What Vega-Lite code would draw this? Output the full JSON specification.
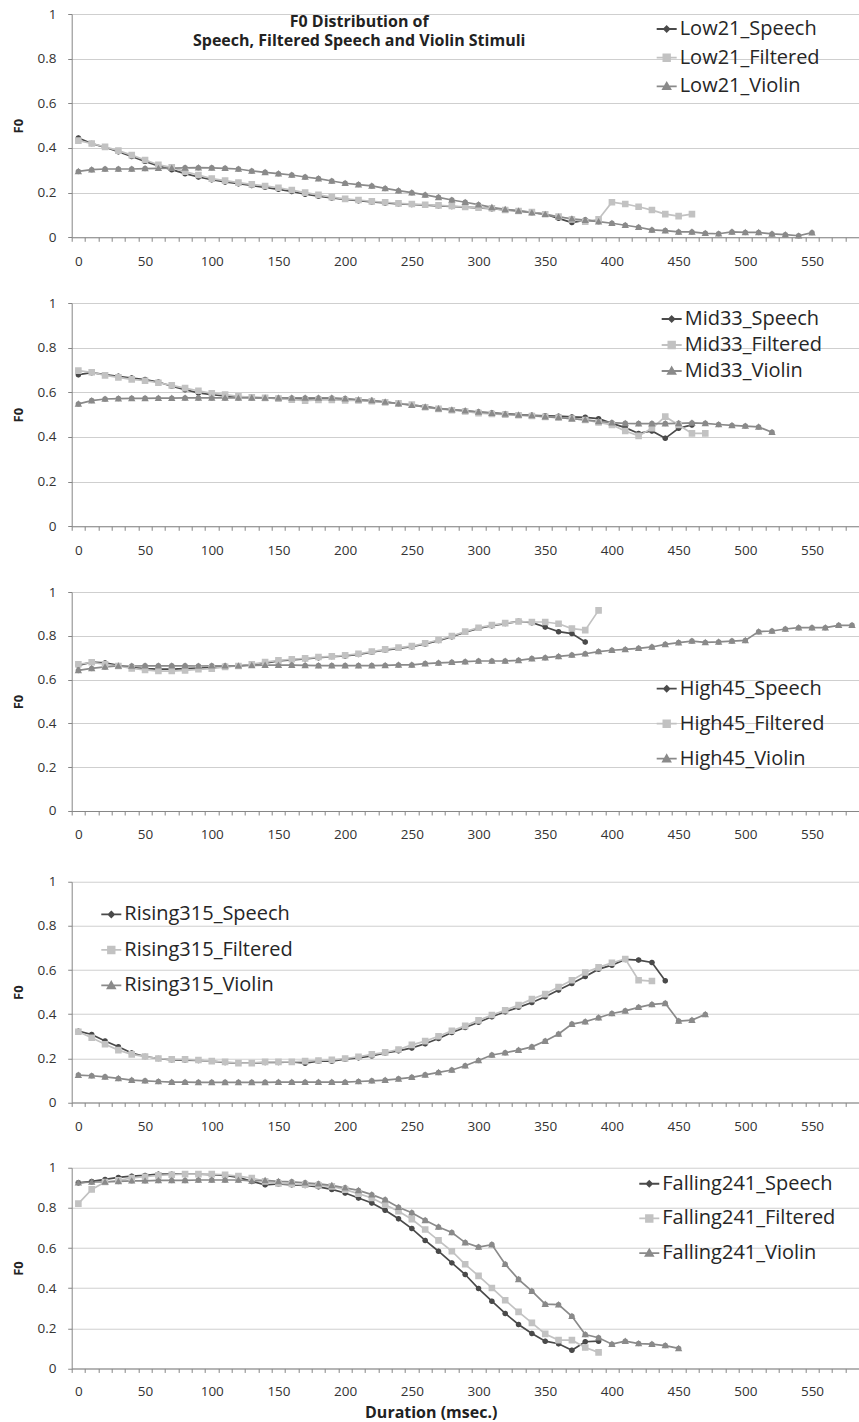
{
"$schema": "https://vega.github.io/schema/vega-lite/v6.json",
"padding": {"left": 11.7, "top": 7, "right": 0, "bottom": 3},
"config": {
  "font": "Open Sans",
  "view": {"stroke": null},
  "axis": {"labelFont": "Open Sans", "labelFontSize": 13.5, "labelColor": "#333333", "domainColor": "#868686", "tickColor": "#868686", "tickSize": 4, "gridColor": "#cfcfcf", "titleFont": "Open Sans", "titleColor": "#222222"},
  "legend": {"labelFont": "Open Sans", "labelFontSize": 20, "labelColor": "#262626", "labelOffset": 2, "symbolSize": 400, "symbolStrokeWidth": 1.8, "padding": 0, "labelLimit": 400, "orient": "none"}
},
"datasets": {
  "low21": [
    {"x":0,"Low21_Speech":0.445,"Low21_Filtered":0.433,"Low21_Violin":0.295},
    {"x":10,"Low21_Speech":0.42,"Low21_Filtered":0.42,"Low21_Violin":0.303},
    {"x":20,"Low21_Speech":0.403,"Low21_Filtered":0.405,"Low21_Violin":0.306},
    {"x":30,"Low21_Speech":0.383,"Low21_Filtered":0.388,"Low21_Violin":0.306},
    {"x":40,"Low21_Speech":0.362,"Low21_Filtered":0.368,"Low21_Violin":0.306},
    {"x":50,"Low21_Speech":0.34,"Low21_Filtered":0.346,"Low21_Violin":0.308},
    {"x":60,"Low21_Speech":0.32,"Low21_Filtered":0.325,"Low21_Violin":0.309},
    {"x":70,"Low21_Speech":0.303,"Low21_Filtered":0.313,"Low21_Violin":0.31},
    {"x":80,"Low21_Speech":0.285,"Low21_Filtered":0.294,"Low21_Violin":0.311},
    {"x":90,"Low21_Speech":0.27,"Low21_Filtered":0.279,"Low21_Violin":0.312},
    {"x":100,"Low21_Speech":0.258,"Low21_Filtered":0.263,"Low21_Violin":0.311},
    {"x":110,"Low21_Speech":0.248,"Low21_Filtered":0.254,"Low21_Violin":0.309},
    {"x":120,"Low21_Speech":0.24,"Low21_Filtered":0.245,"Low21_Violin":0.306},
    {"x":130,"Low21_Speech":0.232,"Low21_Filtered":0.237,"Low21_Violin":0.297},
    {"x":140,"Low21_Speech":0.224,"Low21_Filtered":0.23,"Low21_Violin":0.291},
    {"x":150,"Low21_Speech":0.215,"Low21_Filtered":0.222,"Low21_Violin":0.285},
    {"x":160,"Low21_Speech":0.205,"Low21_Filtered":0.212,"Low21_Violin":0.279},
    {"x":170,"Low21_Speech":0.193,"Low21_Filtered":0.2,"Low21_Violin":0.27},
    {"x":180,"Low21_Speech":0.184,"Low21_Filtered":0.19,"Low21_Violin":0.263},
    {"x":190,"Low21_Speech":0.176,"Low21_Filtered":0.18,"Low21_Violin":0.252},
    {"x":200,"Low21_Speech":0.17,"Low21_Filtered":0.172,"Low21_Violin":0.242},
    {"x":210,"Low21_Speech":0.164,"Low21_Filtered":0.167,"Low21_Violin":0.236},
    {"x":220,"Low21_Speech":0.158,"Low21_Filtered":0.161,"Low21_Violin":0.23},
    {"x":230,"Low21_Speech":0.154,"Low21_Filtered":0.157,"Low21_Violin":0.219},
    {"x":240,"Low21_Speech":0.15,"Low21_Filtered":0.152,"Low21_Violin":0.209},
    {"x":250,"Low21_Speech":0.147,"Low21_Filtered":0.149,"Low21_Violin":0.2},
    {"x":260,"Low21_Speech":0.144,"Low21_Filtered":0.146,"Low21_Violin":0.19},
    {"x":270,"Low21_Speech":0.141,"Low21_Filtered":0.143,"Low21_Violin":0.179},
    {"x":280,"Low21_Speech":0.138,"Low21_Filtered":0.14,"Low21_Violin":0.167},
    {"x":290,"Low21_Speech":0.135,"Low21_Filtered":0.136,"Low21_Violin":0.157},
    {"x":300,"Low21_Speech":0.132,"Low21_Filtered":0.133,"Low21_Violin":0.146},
    {"x":310,"Low21_Speech":0.128,"Low21_Filtered":0.13,"Low21_Violin":0.134},
    {"x":320,"Low21_Speech":0.123,"Low21_Filtered":0.122,"Low21_Violin":0.125},
    {"x":330,"Low21_Speech":0.118,"Low21_Filtered":0.118,"Low21_Violin":0.118},
    {"x":340,"Low21_Speech":0.112,"Low21_Filtered":0.113,"Low21_Violin":0.11},
    {"x":350,"Low21_Speech":0.104,"Low21_Filtered":0.103,"Low21_Violin":0.103},
    {"x":360,"Low21_Speech":0.085,"Low21_Filtered":0.093,"Low21_Violin":0.092},
    {"x":370,"Low21_Speech":0.066,"Low21_Filtered":0.08,"Low21_Violin":0.083},
    {"x":380,"Low21_Speech":0.077,"Low21_Filtered":0.07,"Low21_Violin":0.077},
    {"x":390,"Low21_Speech":0.072,"Low21_Filtered":0.081,"Low21_Violin":0.07},
    {"x":400,"Low21_Filtered":0.157,"Low21_Violin":0.063},
    {"x":410,"Low21_Filtered":0.149,"Low21_Violin":0.054},
    {"x":420,"Low21_Filtered":0.137,"Low21_Violin":0.045},
    {"x":430,"Low21_Filtered":0.122,"Low21_Violin":0.033},
    {"x":440,"Low21_Filtered":0.104,"Low21_Violin":0.03},
    {"x":450,"Low21_Filtered":0.095,"Low21_Violin":0.024},
    {"x":460,"Low21_Filtered":0.104,"Low21_Violin":0.024},
    {"x":470,"Low21_Violin":0.018},
    {"x":480,"Low21_Violin":0.016},
    {"x":490,"Low21_Violin":0.024},
    {"x":500,"Low21_Violin":0.022},
    {"x":510,"Low21_Violin":0.022},
    {"x":520,"Low21_Violin":0.015},
    {"x":530,"Low21_Violin":0.012},
    {"x":540,"Low21_Violin":0.007},
    {"x":550,"Low21_Violin":0.021}
  ],
  "mid33": [
    {"x":0,"Mid33_Speech":0.679,"Mid33_Filtered":0.697,"Mid33_Violin":0.548},
    {"x":10,"Mid33_Speech":0.688,"Mid33_Filtered":0.69,"Mid33_Violin":0.563},
    {"x":20,"Mid33_Speech":0.679,"Mid33_Filtered":0.676,"Mid33_Violin":0.57},
    {"x":30,"Mid33_Speech":0.672,"Mid33_Filtered":0.667,"Mid33_Violin":0.572},
    {"x":40,"Mid33_Speech":0.664,"Mid33_Filtered":0.658,"Mid33_Violin":0.573},
    {"x":50,"Mid33_Speech":0.657,"Mid33_Filtered":0.652,"Mid33_Violin":0.573},
    {"x":60,"Mid33_Speech":0.646,"Mid33_Filtered":0.643,"Mid33_Violin":0.574},
    {"x":70,"Mid33_Speech":0.627,"Mid33_Filtered":0.631,"Mid33_Violin":0.574},
    {"x":80,"Mid33_Speech":0.612,"Mid33_Filtered":0.619,"Mid33_Violin":0.575},
    {"x":90,"Mid33_Speech":0.597,"Mid33_Filtered":0.607,"Mid33_Violin":0.575},
    {"x":100,"Mid33_Speech":0.59,"Mid33_Filtered":0.596,"Mid33_Violin":0.575},
    {"x":110,"Mid33_Speech":0.584,"Mid33_Filtered":0.59,"Mid33_Violin":0.575},
    {"x":120,"Mid33_Speech":0.579,"Mid33_Filtered":0.582,"Mid33_Violin":0.575},
    {"x":130,"Mid33_Speech":0.577,"Mid33_Filtered":0.578,"Mid33_Violin":0.575},
    {"x":140,"Mid33_Speech":0.575,"Mid33_Filtered":0.575,"Mid33_Violin":0.575},
    {"x":150,"Mid33_Speech":0.573,"Mid33_Filtered":0.572,"Mid33_Violin":0.575},
    {"x":160,"Mid33_Speech":0.572,"Mid33_Filtered":0.567,"Mid33_Violin":0.575},
    {"x":170,"Mid33_Speech":0.571,"Mid33_Filtered":0.563,"Mid33_Violin":0.575},
    {"x":180,"Mid33_Speech":0.571,"Mid33_Filtered":0.566,"Mid33_Violin":0.575},
    {"x":190,"Mid33_Speech":0.57,"Mid33_Filtered":0.566,"Mid33_Violin":0.575},
    {"x":200,"Mid33_Speech":0.568,"Mid33_Filtered":0.564,"Mid33_Violin":0.572},
    {"x":210,"Mid33_Speech":0.565,"Mid33_Filtered":0.564,"Mid33_Violin":0.567},
    {"x":220,"Mid33_Speech":0.561,"Mid33_Filtered":0.56,"Mid33_Violin":0.564},
    {"x":230,"Mid33_Speech":0.556,"Mid33_Filtered":0.555,"Mid33_Violin":0.557},
    {"x":240,"Mid33_Speech":0.55,"Mid33_Filtered":0.551,"Mid33_Violin":0.549},
    {"x":250,"Mid33_Speech":0.544,"Mid33_Filtered":0.545,"Mid33_Violin":0.542},
    {"x":260,"Mid33_Speech":0.536,"Mid33_Filtered":0.533,"Mid33_Violin":0.535},
    {"x":270,"Mid33_Speech":0.528,"Mid33_Filtered":0.526,"Mid33_Violin":0.527},
    {"x":280,"Mid33_Speech":0.522,"Mid33_Filtered":0.52,"Mid33_Violin":0.522},
    {"x":290,"Mid33_Speech":0.517,"Mid33_Filtered":0.514,"Mid33_Violin":0.518},
    {"x":300,"Mid33_Speech":0.512,"Mid33_Filtered":0.507,"Mid33_Violin":0.512},
    {"x":310,"Mid33_Speech":0.508,"Mid33_Filtered":0.503,"Mid33_Violin":0.507},
    {"x":320,"Mid33_Speech":0.504,"Mid33_Filtered":0.5,"Mid33_Violin":0.503},
    {"x":330,"Mid33_Speech":0.5,"Mid33_Filtered":0.497,"Mid33_Violin":0.499},
    {"x":340,"Mid33_Speech":0.497,"Mid33_Filtered":0.494,"Mid33_Violin":0.496},
    {"x":350,"Mid33_Speech":0.495,"Mid33_Filtered":0.49,"Mid33_Violin":0.491},
    {"x":360,"Mid33_Speech":0.493,"Mid33_Filtered":0.487,"Mid33_Violin":0.487},
    {"x":370,"Mid33_Speech":0.49,"Mid33_Filtered":0.482,"Mid33_Violin":0.482},
    {"x":380,"Mid33_Speech":0.488,"Mid33_Filtered":0.476,"Mid33_Violin":0.477},
    {"x":390,"Mid33_Speech":0.482,"Mid33_Filtered":0.465,"Mid33_Violin":0.47},
    {"x":400,"Mid33_Speech":0.461,"Mid33_Filtered":0.454,"Mid33_Violin":0.464},
    {"x":410,"Mid33_Speech":0.442,"Mid33_Filtered":0.427,"Mid33_Violin":0.461},
    {"x":420,"Mid33_Speech":0.416,"Mid33_Filtered":0.405,"Mid33_Violin":0.46},
    {"x":430,"Mid33_Speech":0.427,"Mid33_Filtered":0.439,"Mid33_Violin":0.46},
    {"x":440,"Mid33_Speech":0.394,"Mid33_Filtered":0.491,"Mid33_Violin":0.46},
    {"x":450,"Mid33_Speech":0.439,"Mid33_Filtered":0.454,"Mid33_Violin":0.461},
    {"x":460,"Mid33_Speech":0.454,"Mid33_Filtered":0.416,"Mid33_Violin":0.463},
    {"x":470,"Mid33_Filtered":0.416,"Mid33_Violin":0.461},
    {"x":480,"Mid33_Violin":0.456},
    {"x":490,"Mid33_Violin":0.452},
    {"x":500,"Mid33_Violin":0.449},
    {"x":510,"Mid33_Violin":0.445},
    {"x":520,"Mid33_Violin":0.421}
  ],
  "high45": [
    {"x":0,"High45_Speech":0.665,"High45_Filtered":0.67,"High45_Violin":0.642},
    {"x":10,"High45_Speech":0.68,"High45_Filtered":0.679,"High45_Violin":0.651},
    {"x":20,"High45_Speech":0.676,"High45_Filtered":0.67,"High45_Violin":0.658},
    {"x":30,"High45_Speech":0.665,"High45_Filtered":0.662,"High45_Violin":0.662},
    {"x":40,"High45_Speech":0.655,"High45_Filtered":0.651,"High45_Violin":0.662},
    {"x":50,"High45_Speech":0.65,"High45_Filtered":0.644,"High45_Violin":0.663},
    {"x":60,"High45_Speech":0.648,"High45_Filtered":0.639,"High45_Violin":0.663},
    {"x":70,"High45_Speech":0.648,"High45_Filtered":0.639,"High45_Violin":0.663},
    {"x":80,"High45_Speech":0.65,"High45_Filtered":0.642,"High45_Violin":0.663},
    {"x":90,"High45_Speech":0.652,"High45_Filtered":0.647,"High45_Violin":0.662},
    {"x":100,"High45_Speech":0.655,"High45_Filtered":0.65,"High45_Violin":0.663},
    {"x":110,"High45_Speech":0.66,"High45_Filtered":0.658,"High45_Violin":0.663},
    {"x":120,"High45_Speech":0.662,"High45_Filtered":0.662,"High45_Violin":0.663},
    {"x":130,"High45_Speech":0.668,"High45_Filtered":0.67,"High45_Violin":0.665},
    {"x":140,"High45_Speech":0.675,"High45_Filtered":0.68,"High45_Violin":0.666},
    {"x":150,"High45_Speech":0.685,"High45_Filtered":0.688,"High45_Violin":0.666},
    {"x":160,"High45_Speech":0.69,"High45_Filtered":0.693,"High45_Violin":0.666},
    {"x":170,"High45_Speech":0.695,"High45_Filtered":0.697,"High45_Violin":0.665},
    {"x":180,"High45_Speech":0.7,"High45_Filtered":0.703,"High45_Violin":0.664},
    {"x":190,"High45_Speech":0.705,"High45_Filtered":0.706,"High45_Violin":0.664},
    {"x":200,"High45_Speech":0.708,"High45_Filtered":0.711,"High45_Violin":0.664},
    {"x":210,"High45_Speech":0.715,"High45_Filtered":0.718,"High45_Violin":0.664},
    {"x":220,"High45_Speech":0.725,"High45_Filtered":0.728,"High45_Violin":0.664},
    {"x":230,"High45_Speech":0.735,"High45_Filtered":0.738,"High45_Violin":0.665},
    {"x":240,"High45_Speech":0.743,"High45_Filtered":0.746,"High45_Violin":0.667},
    {"x":250,"High45_Speech":0.75,"High45_Filtered":0.753,"High45_Violin":0.667},
    {"x":260,"High45_Speech":0.763,"High45_Filtered":0.766,"High45_Violin":0.673},
    {"x":270,"High45_Speech":0.778,"High45_Filtered":0.781,"High45_Violin":0.676},
    {"x":280,"High45_Speech":0.796,"High45_Filtered":0.799,"High45_Violin":0.679},
    {"x":290,"High45_Speech":0.816,"High45_Filtered":0.819,"High45_Violin":0.682},
    {"x":300,"High45_Speech":0.834,"High45_Filtered":0.837,"High45_Violin":0.685},
    {"x":310,"High45_Speech":0.846,"High45_Filtered":0.849,"High45_Violin":0.685},
    {"x":320,"High45_Speech":0.856,"High45_Filtered":0.858,"High45_Violin":0.685},
    {"x":330,"High45_Speech":0.866,"High45_Filtered":0.865,"High45_Violin":0.688},
    {"x":340,"High45_Speech":0.86,"High45_Filtered":0.863,"High45_Violin":0.696},
    {"x":350,"High45_Speech":0.84,"High45_Filtered":0.863,"High45_Violin":0.7},
    {"x":360,"High45_Speech":0.819,"High45_Filtered":0.855,"High45_Violin":0.706},
    {"x":370,"High45_Speech":0.81,"High45_Filtered":0.833,"High45_Violin":0.712},
    {"x":380,"High45_Speech":0.772,"High45_Filtered":0.826,"High45_Violin":0.718},
    {"x":390,"High45_Filtered":0.916,"High45_Violin":0.728},
    {"x":400,"High45_Violin":0.734},
    {"x":410,"High45_Violin":0.738},
    {"x":420,"High45_Violin":0.743},
    {"x":430,"High45_Violin":0.749},
    {"x":440,"High45_Violin":0.761},
    {"x":450,"High45_Violin":0.769},
    {"x":460,"High45_Violin":0.776},
    {"x":470,"High45_Violin":0.77},
    {"x":480,"High45_Violin":0.772},
    {"x":490,"High45_Violin":0.776},
    {"x":500,"High45_Violin":0.779},
    {"x":510,"High45_Violin":0.819},
    {"x":520,"High45_Violin":0.822},
    {"x":530,"High45_Violin":0.831},
    {"x":540,"High45_Violin":0.837},
    {"x":550,"High45_Violin":0.837},
    {"x":560,"High45_Violin":0.837},
    {"x":570,"High45_Violin":0.848},
    {"x":580,"High45_Violin":0.848}
  ],
  "rising315": [
    {"x":0,"Rising315_Speech":0.323,"Rising315_Filtered":0.32,"Rising315_Violin":0.124},
    {"x":10,"Rising315_Speech":0.308,"Rising315_Filtered":0.293,"Rising315_Violin":0.121},
    {"x":20,"Rising315_Speech":0.278,"Rising315_Filtered":0.264,"Rising315_Violin":0.116},
    {"x":30,"Rising315_Speech":0.252,"Rising315_Filtered":0.237,"Rising315_Violin":0.109},
    {"x":40,"Rising315_Speech":0.224,"Rising315_Filtered":0.218,"Rising315_Violin":0.101},
    {"x":50,"Rising315_Speech":0.208,"Rising315_Filtered":0.208,"Rising315_Violin":0.098},
    {"x":60,"Rising315_Speech":0.199,"Rising315_Filtered":0.199,"Rising315_Violin":0.095},
    {"x":70,"Rising315_Speech":0.193,"Rising315_Filtered":0.195,"Rising315_Violin":0.092},
    {"x":80,"Rising315_Speech":0.192,"Rising315_Filtered":0.195,"Rising315_Violin":0.092},
    {"x":90,"Rising315_Speech":0.19,"Rising315_Filtered":0.192,"Rising315_Violin":0.091},
    {"x":100,"Rising315_Speech":0.187,"Rising315_Filtered":0.187,"Rising315_Violin":0.091},
    {"x":110,"Rising315_Speech":0.181,"Rising315_Filtered":0.184,"Rising315_Violin":0.091},
    {"x":120,"Rising315_Speech":0.178,"Rising315_Filtered":0.178,"Rising315_Violin":0.091},
    {"x":130,"Rising315_Speech":0.178,"Rising315_Filtered":0.178,"Rising315_Violin":0.091},
    {"x":140,"Rising315_Speech":0.181,"Rising315_Filtered":0.184,"Rising315_Violin":0.091},
    {"x":150,"Rising315_Speech":0.181,"Rising315_Filtered":0.184,"Rising315_Violin":0.092},
    {"x":160,"Rising315_Speech":0.184,"Rising315_Filtered":0.184,"Rising315_Violin":0.092},
    {"x":170,"Rising315_Speech":0.178,"Rising315_Filtered":0.187,"Rising315_Violin":0.092},
    {"x":180,"Rising315_Speech":0.187,"Rising315_Filtered":0.19,"Rising315_Violin":0.092},
    {"x":190,"Rising315_Speech":0.187,"Rising315_Filtered":0.193,"Rising315_Violin":0.092},
    {"x":200,"Rising315_Speech":0.196,"Rising315_Filtered":0.199,"Rising315_Violin":0.092},
    {"x":210,"Rising315_Speech":0.202,"Rising315_Filtered":0.207,"Rising315_Violin":0.095},
    {"x":220,"Rising315_Speech":0.211,"Rising315_Filtered":0.218,"Rising315_Violin":0.098},
    {"x":230,"Rising315_Speech":0.224,"Rising315_Filtered":0.227,"Rising315_Violin":0.101},
    {"x":240,"Rising315_Speech":0.234,"Rising315_Filtered":0.24,"Rising315_Violin":0.107},
    {"x":250,"Rising315_Speech":0.247,"Rising315_Filtered":0.261,"Rising315_Violin":0.114},
    {"x":260,"Rising315_Speech":0.266,"Rising315_Filtered":0.278,"Rising315_Violin":0.125},
    {"x":270,"Rising315_Speech":0.29,"Rising315_Filtered":0.3,"Rising315_Violin":0.136},
    {"x":280,"Rising315_Speech":0.317,"Rising315_Filtered":0.325,"Rising315_Violin":0.147},
    {"x":290,"Rising315_Speech":0.34,"Rising315_Filtered":0.347,"Rising315_Violin":0.166},
    {"x":300,"Rising315_Speech":0.363,"Rising315_Filtered":0.372,"Rising315_Violin":0.19},
    {"x":310,"Rising315_Speech":0.388,"Rising315_Filtered":0.396,"Rising315_Violin":0.215},
    {"x":320,"Rising315_Speech":0.411,"Rising315_Filtered":0.418,"Rising315_Violin":0.225},
    {"x":330,"Rising315_Speech":0.431,"Rising315_Filtered":0.441,"Rising315_Violin":0.237},
    {"x":340,"Rising315_Speech":0.453,"Rising315_Filtered":0.468,"Rising315_Violin":0.252},
    {"x":350,"Rising315_Speech":0.479,"Rising315_Filtered":0.491,"Rising315_Violin":0.278},
    {"x":360,"Rising315_Speech":0.509,"Rising315_Filtered":0.523,"Rising315_Violin":0.31},
    {"x":370,"Rising315_Speech":0.539,"Rising315_Filtered":0.554,"Rising315_Violin":0.355},
    {"x":380,"Rising315_Speech":0.571,"Rising315_Filtered":0.589,"Rising315_Violin":0.366},
    {"x":390,"Rising315_Speech":0.604,"Rising315_Filtered":0.612,"Rising315_Violin":0.384},
    {"x":400,"Rising315_Speech":0.622,"Rising315_Filtered":0.633,"Rising315_Violin":0.403},
    {"x":410,"Rising315_Speech":0.648,"Rising315_Filtered":0.65,"Rising315_Violin":0.415},
    {"x":420,"Rising315_Speech":0.645,"Rising315_Filtered":0.554,"Rising315_Violin":0.431},
    {"x":430,"Rising315_Speech":0.634,"Rising315_Filtered":0.55,"Rising315_Violin":0.444},
    {"x":440,"Rising315_Speech":0.551,"Rising315_Violin":0.449},
    {"x":450,"Rising315_Violin":0.369},
    {"x":460,"Rising315_Violin":0.373},
    {"x":470,"Rising315_Violin":0.399}
  ],
  "falling241": [
    {"x":0,"Falling241_Speech":0.925,"Falling241_Filtered":0.821,"Falling241_Violin":0.925},
    {"x":10,"Falling241_Speech":0.932,"Falling241_Filtered":0.892,"Falling241_Violin":0.929},
    {"x":20,"Falling241_Speech":0.942,"Falling241_Filtered":0.929,"Falling241_Violin":0.929},
    {"x":30,"Falling241_Speech":0.952,"Falling241_Filtered":0.937,"Falling241_Violin":0.932},
    {"x":40,"Falling241_Speech":0.958,"Falling241_Filtered":0.949,"Falling241_Violin":0.935},
    {"x":50,"Falling241_Speech":0.962,"Falling241_Filtered":0.955,"Falling241_Violin":0.935},
    {"x":60,"Falling241_Speech":0.968,"Falling241_Filtered":0.962,"Falling241_Violin":0.937},
    {"x":70,"Falling241_Speech":0.968,"Falling241_Filtered":0.965,"Falling241_Violin":0.937},
    {"x":80,"Falling241_Speech":0.968,"Falling241_Filtered":0.968,"Falling241_Violin":0.937},
    {"x":90,"Falling241_Speech":0.968,"Falling241_Filtered":0.968,"Falling241_Violin":0.939},
    {"x":100,"Falling241_Speech":0.965,"Falling241_Filtered":0.968,"Falling241_Violin":0.939},
    {"x":110,"Falling241_Speech":0.962,"Falling241_Filtered":0.965,"Falling241_Violin":0.939},
    {"x":120,"Falling241_Speech":0.952,"Falling241_Filtered":0.958,"Falling241_Violin":0.939},
    {"x":130,"Falling241_Speech":0.932,"Falling241_Filtered":0.949,"Falling241_Violin":0.934},
    {"x":140,"Falling241_Speech":0.915,"Falling241_Filtered":0.932,"Falling241_Violin":0.937},
    {"x":150,"Falling241_Speech":0.919,"Falling241_Filtered":0.922,"Falling241_Violin":0.932},
    {"x":160,"Falling241_Speech":0.915,"Falling241_Filtered":0.919,"Falling241_Violin":0.93},
    {"x":170,"Falling241_Speech":0.912,"Falling241_Filtered":0.915,"Falling241_Violin":0.925},
    {"x":180,"Falling241_Speech":0.905,"Falling241_Filtered":0.912,"Falling241_Violin":0.92},
    {"x":190,"Falling241_Speech":0.892,"Falling241_Filtered":0.907,"Falling241_Violin":0.912},
    {"x":200,"Falling241_Speech":0.874,"Falling241_Filtered":0.891,"Falling241_Violin":0.9},
    {"x":210,"Falling241_Speech":0.849,"Falling241_Filtered":0.871,"Falling241_Violin":0.887},
    {"x":220,"Falling241_Speech":0.824,"Falling241_Filtered":0.849,"Falling241_Violin":0.866},
    {"x":230,"Falling241_Speech":0.788,"Falling241_Filtered":0.816,"Falling241_Violin":0.841},
    {"x":240,"Falling241_Speech":0.746,"Falling241_Filtered":0.783,"Falling241_Violin":0.803},
    {"x":250,"Falling241_Speech":0.697,"Falling241_Filtered":0.743,"Falling241_Violin":0.776},
    {"x":260,"Falling241_Speech":0.638,"Falling241_Filtered":0.692,"Falling241_Violin":0.738},
    {"x":270,"Falling241_Speech":0.584,"Falling241_Filtered":0.638,"Falling241_Violin":0.705},
    {"x":280,"Falling241_Speech":0.526,"Falling241_Filtered":0.584,"Falling241_Violin":0.677},
    {"x":290,"Falling241_Speech":0.468,"Falling241_Filtered":0.519,"Falling241_Violin":0.627},
    {"x":300,"Falling241_Speech":0.398,"Falling241_Filtered":0.461,"Falling241_Violin":0.605},
    {"x":310,"Falling241_Speech":0.335,"Falling241_Filtered":0.401,"Falling241_Violin":0.617},
    {"x":320,"Falling241_Speech":0.274,"Falling241_Filtered":0.34,"Falling241_Violin":0.519},
    {"x":330,"Falling241_Speech":0.219,"Falling241_Filtered":0.282,"Falling241_Violin":0.444},
    {"x":340,"Falling241_Speech":0.174,"Falling241_Filtered":0.227,"Falling241_Violin":0.385},
    {"x":350,"Falling241_Speech":0.136,"Falling241_Filtered":0.172,"Falling241_Violin":0.32},
    {"x":360,"Falling241_Speech":0.123,"Falling241_Filtered":0.141,"Falling241_Violin":0.318},
    {"x":370,"Falling241_Speech":0.091,"Falling241_Filtered":0.141,"Falling241_Violin":0.26},
    {"x":380,"Falling241_Speech":0.133,"Falling241_Filtered":0.104,"Falling241_Violin":0.169},
    {"x":390,"Falling241_Speech":0.136,"Falling241_Filtered":0.08,"Falling241_Violin":0.153},
    {"x":400,"Falling241_Violin":0.121},
    {"x":410,"Falling241_Violin":0.136},
    {"x":420,"Falling241_Violin":0.124},
    {"x":430,"Falling241_Violin":0.121},
    {"x":440,"Falling241_Violin":0.114},
    {"x":450,"Falling241_Violin":0.1}
  ]
},
"resolve": {"scale": {"color": "independent", "shape": "independent"}, "legend": {"color": "independent", "shape": "independent"}},
"spacing": 32.75,
"vconcat": [
 {
  "resolve": {"scale": {"color": "independent", "shape": "independent"}, "legend": {"color": "independent", "shape": "independent"}},
  "spacing": 28,
  "vconcat": [
   {
    "width": 787, "height": 223.3,
    "title": {"text": ["F0 Distribution of", "Speech, Filtered Speech and Violin Stimuli"], "font": "Open Sans", "fontSize": 16, "fontWeight": "bold", "color": "#222222", "anchor": "middle", "dx": -106, "offset": -42, "baseline": "top", "lineHeight": 19.5, "frame": "group"},
    "data": {"name": "low21"},
    "transform": [{"fold": ["Low21_Speech", "Low21_Filtered", "Low21_Violin"], "as": ["series", "f0"]}, {"filter": "isValid(datum.f0)"}],
    "encoding": {
      "x": {"field": "x", "type": "quantitative", "scale": {"domain": [-5, 585], "nice": false, "zero": false},
            "axis": {"title": null, "values": [0,10,20,30,40,50,60,70,80,90,100,110,120,130,140,150,160,170,180,190,200,210,220,230,240,250,260,270,280,290,300,310,320,330,340,350,360,370,380,390,400,410,420,430,440,450,460,470,480,490,500,510,520,530,540,550,560,570,580,590], "tickOffset": -6.67, "labelOffset": 6.67, "labelExpr": "datum.value % 50 === 0 && datum.value <= 550 ? datum.label : ''", "grid": false, "labelFlush": false, "labelOverlap": false, "labelPadding": 13, "tickSize": 4}},
      "y": {"field": "f0", "type": "quantitative", "scale": {"domain": [0, 1], "nice": false},
            "axis": {"title": "F0", "values": [0, 0.2, 0.4, 0.6, 0.8, 1], "format": "~g", "grid": true, "labelPadding": 11.7, "tickSize": 4, "titleFontSize": 13, "titleFontWeight": "bold", "titlePadding": 12}},
      "color": {"field": "series", "type": "nominal", "scale": {"domain": ["Low21_Speech", "Low21_Filtered", "Low21_Violin"], "range": ["#4a4a4a", "#c2c2c2", "#8a8a8a"]},
                "legend": {"title": null, "orient": "none", "legendX": 584, "legendY": 4, "rowPadding": 7.7,
                  "encode": {"symbols": {"update": {
                    "stroke": {"signal": "indexof(datum.value,'Speech')>=0 ? '#4a4a4a' : indexof(datum.value,'Filtered')>=0 ? '#c2c2c2' : '#8a8a8a'"},
                    "strokeWidth": {"value": 1.8}, "strokeOpacity": {"value": 1}, "size": {"value": 400}, "opacity": {"value": 1}}}}}},
      "shape": {"field": "series", "type": "nominal", "scale": {"domain": ["Low21_Speech", "Low21_Filtered", "Low21_Violin"], "range": ["M-1,0L1,0M0,-0.27L0.27,0L0,0.27L-0.27,0Z", "M-1,0L1,0M-0.33,-0.33L0.33,-0.33L0.33,0.33L-0.33,0.33Z", "M-1,0L1,0M0,-0.36L0.37,0.28L-0.37,0.28Z"]},
                "legend": {"title": null, "orient": "none", "legendX": 584, "legendY": 4, "rowPadding": 7.7}}
    },
    "layer": [
      {"mark": {"type": "line", "strokeWidth": 1.7}, "encoding": {"shape": {"value": "circle"}}},
      {"mark": {"type": "point", "filled": true, "opacity": 1, "size": 400, "strokeWidth": 0}}
    ]
   },
   {
    "width": 787, "height": 223.3,
    "data": {"name": "mid33"},
    "transform": [{"fold": ["Mid33_Speech", "Mid33_Filtered", "Mid33_Violin"], "as": ["series", "f0"]}, {"filter": "isValid(datum.f0)"}],
    "encoding": {
      "x": {"field": "x", "type": "quantitative", "scale": {"domain": [-5, 585], "nice": false, "zero": false},
            "axis": {"title": null, "values": [0,10,20,30,40,50,60,70,80,90,100,110,120,130,140,150,160,170,180,190,200,210,220,230,240,250,260,270,280,290,300,310,320,330,340,350,360,370,380,390,400,410,420,430,440,450,460,470,480,490,500,510,520,530,540,550,560,570,580,590], "tickOffset": -6.67, "labelOffset": 6.67, "labelExpr": "datum.value % 50 === 0 && datum.value <= 550 ? datum.label : ''", "grid": false, "labelFlush": false, "labelOverlap": false, "labelPadding": 13, "tickSize": 4}},
      "y": {"field": "f0", "type": "quantitative", "scale": {"domain": [0, 1], "nice": false},
            "axis": {"title": "F0", "values": [0, 0.2, 0.4, 0.6, 0.8, 1], "format": "~g", "grid": true, "labelPadding": 11.7, "tickSize": 4, "titleFontSize": 13, "titleFontWeight": "bold", "titlePadding": 12}},
      "color": {"field": "series", "type": "nominal", "scale": {"domain": ["Mid33_Speech", "Mid33_Filtered", "Mid33_Violin"], "range": ["#4a4a4a", "#c2c2c2", "#8a8a8a"]},
                "legend": {"title": null, "orient": "none", "legendX": 589, "legendY": 5, "rowPadding": 5,
                  "encode": {"symbols": {"update": {
                    "stroke": {"signal": "indexof(datum.value,'Speech')>=0 ? '#4a4a4a' : indexof(datum.value,'Filtered')>=0 ? '#c2c2c2' : '#8a8a8a'"},
                    "strokeWidth": {"value": 1.8}, "strokeOpacity": {"value": 1}, "size": {"value": 400}, "opacity": {"value": 1}}}}}},
      "shape": {"field": "series", "type": "nominal", "scale": {"domain": ["Mid33_Speech", "Mid33_Filtered", "Mid33_Violin"], "range": ["M-1,0L1,0M0,-0.27L0.27,0L0,0.27L-0.27,0Z", "M-1,0L1,0M-0.33,-0.33L0.33,-0.33L0.33,0.33L-0.33,0.33Z", "M-1,0L1,0M0,-0.36L0.37,0.28L-0.37,0.28Z"]},
                "legend": {"title": null, "orient": "none", "legendX": 589, "legendY": 5, "rowPadding": 5}}
    },
    "layer": [
      {"mark": {"type": "line", "strokeWidth": 1.7}, "encoding": {"shape": {"value": "circle"}}},
      {"mark": {"type": "point", "filled": true, "opacity": 1, "size": 400, "strokeWidth": 0}}
    ]
   },
   {
    "width": 787, "height": 219,
    "data": {"name": "high45"},
    "transform": [{"fold": ["High45_Speech", "High45_Filtered", "High45_Violin"], "as": ["series", "f0"]}, {"filter": "isValid(datum.f0)"}],
    "encoding": {
      "x": {"field": "x", "type": "quantitative", "scale": {"domain": [-5, 585], "nice": false, "zero": false},
            "axis": {"title": null, "values": [0,10,20,30,40,50,60,70,80,90,100,110,120,130,140,150,160,170,180,190,200,210,220,230,240,250,260,270,280,290,300,310,320,330,340,350,360,370,380,390,400,410,420,430,440,450,460,470,480,490,500,510,520,530,540,550,560,570,580,590], "tickOffset": -6.67, "labelOffset": 6.67, "labelExpr": "datum.value % 50 === 0 && datum.value <= 550 ? datum.label : ''", "grid": false, "labelFlush": false, "labelOverlap": false, "labelPadding": 13, "tickSize": 4}},
      "y": {"field": "f0", "type": "quantitative", "scale": {"domain": [0, 1], "nice": false},
            "axis": {"title": "F0", "values": [0, 0.2, 0.4, 0.6, 0.8, 1], "format": "~g", "grid": true, "labelPadding": 11.7, "tickSize": 4, "titleFontSize": 13, "titleFontWeight": "bold", "titlePadding": 12}},
      "color": {"field": "series", "type": "nominal", "scale": {"domain": ["High45_Speech", "High45_Filtered", "High45_Violin"], "range": ["#4a4a4a", "#c2c2c2", "#8a8a8a"]},
                "legend": {"title": null, "orient": "none", "legendX": 584, "legendY": 85.7, "rowPadding": 14,
                  "encode": {"symbols": {"update": {
                    "stroke": {"signal": "indexof(datum.value,'Speech')>=0 ? '#4a4a4a' : indexof(datum.value,'Filtered')>=0 ? '#c2c2c2' : '#8a8a8a'"},
                    "strokeWidth": {"value": 1.8}, "strokeOpacity": {"value": 1}, "size": {"value": 400}, "opacity": {"value": 1}}}}}},
      "shape": {"field": "series", "type": "nominal", "scale": {"domain": ["High45_Speech", "High45_Filtered", "High45_Violin"], "range": ["M-1,0L1,0M0,-0.27L0.27,0L0,0.27L-0.27,0Z", "M-1,0L1,0M-0.33,-0.33L0.33,-0.33L0.33,0.33L-0.33,0.33Z", "M-1,0L1,0M0,-0.36L0.37,0.28L-0.37,0.28Z"]},
                "legend": {"title": null, "orient": "none", "legendX": 584, "legendY": 85.7, "rowPadding": 14}}
    },
    "layer": [
      {"mark": {"type": "line", "strokeWidth": 1.7}, "encoding": {"shape": {"value": "circle"}}},
      {"mark": {"type": "point", "filled": true, "opacity": 1, "size": 400, "strokeWidth": 0}}
    ]
   }
  ]
 },
 {
  "resolve": {"scale": {"color": "independent", "shape": "independent"}, "legend": {"color": "independent", "shape": "independent"}},
  "spacing": 27,
  "vconcat": [
   {
    "width": 787, "height": 220.7,
    "data": {"name": "rising315"},
    "transform": [{"fold": ["Rising315_Speech", "Rising315_Filtered", "Rising315_Violin"], "as": ["series", "f0"]}, {"filter": "isValid(datum.f0)"}],
    "encoding": {
      "x": {"field": "x", "type": "quantitative", "scale": {"domain": [-5, 585], "nice": false, "zero": false},
            "axis": {"title": null, "values": [0,10,20,30,40,50,60,70,80,90,100,110,120,130,140,150,160,170,180,190,200,210,220,230,240,250,260,270,280,290,300,310,320,330,340,350,360,370,380,390,400,410,420,430,440,450,460,470,480,490,500,510,520,530,540,550,560,570,580,590], "tickOffset": -6.67, "labelOffset": 6.67, "labelExpr": "datum.value % 50 === 0 && datum.value <= 550 ? datum.label : ''", "grid": false, "labelFlush": false, "labelOverlap": false, "labelPadding": 13, "tickSize": 4}},
      "y": {"field": "f0", "type": "quantitative", "scale": {"domain": [0, 1], "nice": false},
            "axis": {"title": "F0", "values": [0, 0.2, 0.4, 0.6, 0.8, 1], "format": "~g", "grid": true, "labelPadding": 11.7, "tickSize": 4, "titleFontSize": 13, "titleFontWeight": "bold", "titlePadding": 12}},
      "color": {"field": "series", "type": "nominal", "scale": {"domain": ["Rising315_Speech", "Rising315_Filtered", "Rising315_Violin"], "range": ["#4a4a4a", "#c2c2c2", "#8a8a8a"]},
                "legend": {"title": null, "orient": "none", "legendX": 28.6, "legendY": 21.7, "rowPadding": 14.5,
                  "encode": {"symbols": {"update": {
                    "stroke": {"signal": "indexof(datum.value,'Speech')>=0 ? '#4a4a4a' : indexof(datum.value,'Filtered')>=0 ? '#c2c2c2' : '#8a8a8a'"},
                    "strokeWidth": {"value": 1.8}, "strokeOpacity": {"value": 1}, "size": {"value": 400}, "opacity": {"value": 1}}}}}},
      "shape": {"field": "series", "type": "nominal", "scale": {"domain": ["Rising315_Speech", "Rising315_Filtered", "Rising315_Violin"], "range": ["M-1,0L1,0M0,-0.27L0.27,0L0,0.27L-0.27,0Z", "M-1,0L1,0M-0.33,-0.33L0.33,-0.33L0.33,0.33L-0.33,0.33Z", "M-1,0L1,0M0,-0.36L0.37,0.28L-0.37,0.28Z"]},
                "legend": {"title": null, "orient": "none", "legendX": 28.6, "legendY": 21.7, "rowPadding": 14.5}}
    },
    "layer": [
      {"mark": {"type": "line", "strokeWidth": 1.7}, "encoding": {"shape": {"value": "circle"}}},
      {"mark": {"type": "point", "filled": true, "opacity": 1, "size": 400, "strokeWidth": 0}}
    ]
   },
   {
    "width": 787, "height": 200.7,
    "data": {"name": "falling241"},
    "transform": [{"fold": ["Falling241_Speech", "Falling241_Filtered", "Falling241_Violin"], "as": ["series", "f0"]}, {"filter": "isValid(datum.f0)"}],
    "encoding": {
      "x": {"field": "x", "type": "quantitative", "scale": {"domain": [-5, 585], "nice": false, "zero": false},
            "axis": {"title": "Duration (msec.)", "titleFontSize": 16, "titleFontWeight": "bold", "titleX": 359, "titleY": 44, "titleBaseline": "middle", "values": [0,10,20,30,40,50,60,70,80,90,100,110,120,130,140,150,160,170,180,190,200,210,220,230,240,250,260,270,280,290,300,310,320,330,340,350,360,370,380,390,400,410,420,430,440,450,460,470,480,490,500,510,520,530,540,550,560,570,580,590], "tickOffset": -6.67, "labelOffset": 6.67, "labelExpr": "datum.value % 50 === 0 && datum.value <= 550 ? datum.label : ''", "grid": false, "labelFlush": false, "labelOverlap": false, "labelPadding": 12, "tickSize": 4}},
      "y": {"field": "f0", "type": "quantitative", "scale": {"domain": [0, 1], "nice": false},
            "axis": {"title": "F0", "values": [0, 0.2, 0.4, 0.6, 0.8, 1], "format": "~g", "grid": true, "labelPadding": 11.7, "tickSize": 4, "titleFontSize": 13, "titleFontWeight": "bold", "titlePadding": 12}},
      "color": {"field": "series", "type": "nominal", "scale": {"domain": ["Falling241_Speech", "Falling241_Filtered", "Falling241_Violin"], "range": ["#4a4a4a", "#c2c2c2", "#8a8a8a"]},
                "legend": {"title": null, "orient": "none", "legendX": 566.6, "legendY": 5, "rowPadding": 13.7,
                  "encode": {"symbols": {"update": {
                    "stroke": {"signal": "indexof(datum.value,'Speech')>=0 ? '#4a4a4a' : indexof(datum.value,'Filtered')>=0 ? '#c2c2c2' : '#8a8a8a'"},
                    "strokeWidth": {"value": 1.8}, "strokeOpacity": {"value": 1}, "size": {"value": 400}, "opacity": {"value": 1}}}}}},
      "shape": {"field": "series", "type": "nominal", "scale": {"domain": ["Falling241_Speech", "Falling241_Filtered", "Falling241_Violin"], "range": ["M-1,0L1,0M0,-0.27L0.27,0L0,0.27L-0.27,0Z", "M-1,0L1,0M-0.33,-0.33L0.33,-0.33L0.33,0.33L-0.33,0.33Z", "M-1,0L1,0M0,-0.36L0.37,0.28L-0.37,0.28Z"]},
                "legend": {"title": null, "orient": "none", "legendX": 566.6, "legendY": 5, "rowPadding": 13.7}}
    },
    "layer": [
      {"mark": {"type": "line", "strokeWidth": 1.7}, "encoding": {"shape": {"value": "circle"}}},
      {"mark": {"type": "point", "filled": true, "opacity": 1, "size": 400, "strokeWidth": 0}}
    ]
   }
  ]
 }
]
}
